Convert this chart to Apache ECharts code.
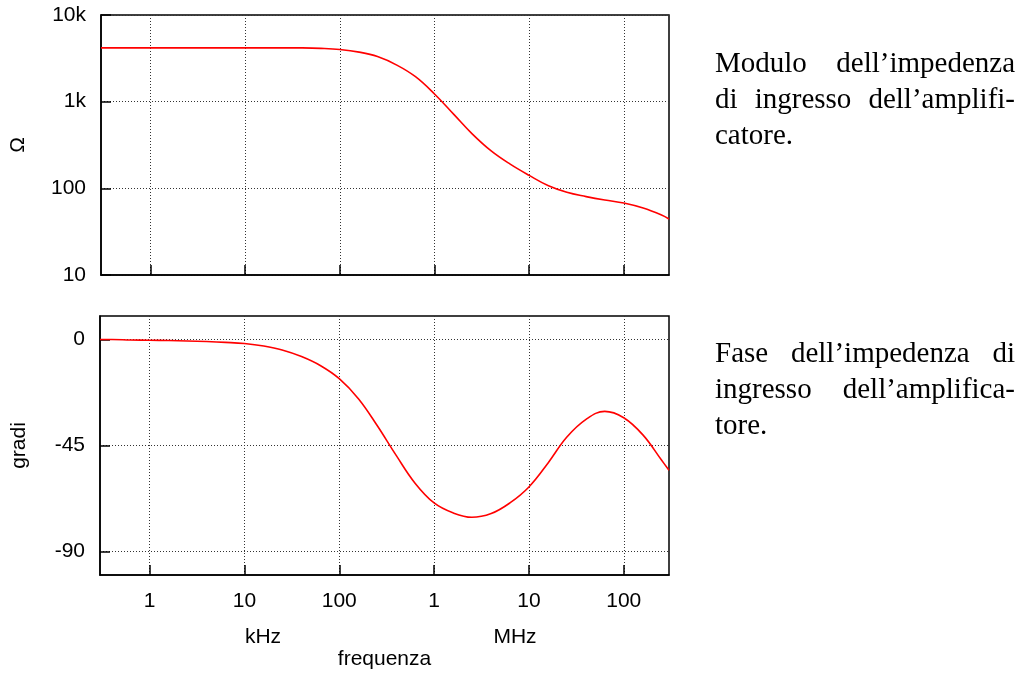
<!DOCTYPE html>
<html><head><meta charset="utf-8">
<script src="https://cdn.jsdelivr.net/npm/echarts@6/dist/echarts.min.js"></script>
<style>html,body{margin:0;padding:0;background:#fff}#c{width:1019px;height:673px}</style>
</head><body><div id="c"></div>
<script>
// ---- data (frequency in Hz) ----
const magFreq  = [300, 400, 630, 1e3, 1.6e3, 2.5e3, 4e3, 6.3e3, 1e4, 1.6e4, 2.5e4, 4e4, 6.3e4, 1e5, 1.6e5, 2.5e5, 4e5, 6.3e5, 1e6, 1.6e6, 2.5e6, 4e6, 6.3e6, 1e7, 1.6e7, 2.5e7, 4e7, 6.3e7, 1e8, 1.6e8, 2.5e8, 3e8];
const magValue = [4180, 4180, 4180, 4180, 4180, 4180, 4180, 4180, 4180, 4180, 4180, 4170, 4120, 4000, 3730, 3310, 2640, 1940, 1226, 713, 425, 268, 190, 141, 107, 90, 80.3, 73.2, 67.6, 59.2, 49.2, 44.3];
const phaseFreq  = [300, 400, 630, 1e3, 1.6e3, 2.5e3, 4e3, 6.3e3, 1e4, 1.6e4, 2.5e4, 4e4, 6.3e4, 1e5, 1.6e5, 2.5e5, 4e5, 6.3e5, 1e6, 1.6e6, 2.5e6, 4e6, 6.3e6, 1e7, 1.6e7, 2.5e7, 4e7, 6.3e7, 1e8, 1.6e8, 2.5e8, 3e8];
const phaseValue = [0, 0, -0.2, -0.3, -0.4, -0.6, -0.85, -1.2, -1.7, -2.75, -4.4, -7.2, -11, -16.6, -25.2, -36.4, -49.3, -61, -69.4, -73.7, -75.5, -73.9, -69.4, -62.6, -52.3, -41.5, -33.9, -30.5, -33.2, -40.6, -51.2, -55.5];

const xTickValues = [1e3, 1e4, 1e5, 1e6, 1e7, 1e8];
const xTickLabels = ['1', '10', '100', '1', '10', '100'];
const magTickValues = [10, 100, 1000, 10000];
const magTickLabels = ['10', '100', '1k', '10k'];
const phaseTickValues = [-90, -45, 0];
const phaseTickLabels = ['-90', '-45', '0'];
const unitLabels = ['kHz', 'MHz'];
const xName = 'frequenza';
const magName = 'Ω';
const phaseName = 'gradi';
const captionTop = ['Modulo dell’impedenza', 'di ingresso dell’amplifi-', 'catore.'];
const captionBottom = ['Fase dell’impedenza di', 'ingresso dell’amplifica-', 'tore.'];

// ---- helpers ----
function labelFor(values, labels) {
  return function (v) {
    for (let i = 0; i < values.length; i++) {
      if (Math.abs(values[i] - v) <= Math.abs(values[i]) * 1e-6 + 1e-9) return labels[i];
    }
    return '';
  };
}
const sans = '"Liberation Sans", Arial, sans-serif';
const serifFont = '"Liberation Serif", "DejaVu Serif", serif';
const labelStyle = { color: '#000', fontFamily: sans, fontSize: 21 };
const gridLine = { show: true, lineStyle: { color: '#333', width: 1, type: [1, 2] } };
const axisLineStyle = { show: true, onZero: false, lineStyle: { color: '#000', width: 1.5 } };
const tickStyle = { color: '#000', width: 1.5 };

function xAxisDef(gridIndex, showLabels) {
  return {
    type: 'log', logBase: 10, gridIndex: gridIndex, min: 300, max: 3e8, position: 'bottom',
    axisLine: axisLineStyle,
    axisTick: { show: true, inside: true, length: 10, customValues: xTickValues, lineStyle: tickStyle },
    axisLabel: Object.assign({ show: showLabels, margin: 16, customValues: xTickValues,
      formatter: labelFor(xTickValues, xTickLabels) }, labelStyle),
    splitLine: gridLine,
    name: showLabels ? xName : '', nameLocation: 'middle', nameGap: 74,
    nameTextStyle: { color: '#000', fontFamily: sans, fontSize: 21 }
  };
}
function yAxisDef(gridIndex, type, min, max, tickValues, tickLabels, name, nameGap) {
  return {
    type: type, gridIndex: gridIndex, min: min, max: max, position: 'left',
    axisLine: axisLineStyle,
    axisTick: { show: true, inside: true, length: 10, customValues: tickValues, lineStyle: tickStyle },
    axisLabel: Object.assign({ margin: 15, customValues: tickValues, formatter: labelFor(tickValues, tickLabels) }, labelStyle),
    splitLine: gridLine,
    name: name, nameLocation: 'middle', nameGap: nameGap,
    nameTextStyle: { color: '#000', fontFamily: sans, fontSize: 21 }
  };
}

// caption layout (justified words)
const measureCtx = document.createElement('canvas').getContext('2d');
const capFontSize = 29;
const capFont = capFontSize + 'px ' + serifFont;
measureCtx.font = capFont;
const capLeft = 715, capRight = 1015;
function captionElements(lines, topY, lineGap) {
  const els = [];
  lines.forEach(function (line, li) {
    const y = topY + li * lineGap;
    const words = line.split(' ');
    const justify = li < lines.length - 1 && words.length > 1;
    if (!justify) {
      els.push({ type: 'text', x: capLeft, y: y, style: { text: line, font: capFont, fill: '#000' } });
      return;
    }
    const widths = words.map(w => measureCtx.measureText(w).width);
    const total = widths.reduce((a, b) => a + b, 0);
    const gap = (capRight - capLeft - total) / (words.length - 1);
    let x = capLeft;
    words.forEach(function (w, wi) {
      els.push({ type: 'text', x: x, y: y, style: { text: w, font: capFont, fill: '#000' } });
      x += widths[wi] + gap;
    });
  });
  return els;
}
const graphics = []
  .concat(captionElements(captionTop, 50, 36))
  .concat(captionElements(captionBottom, 340, 36))
  .concat([
    { type: 'text', x: 263, y: 637, style: { text: unitLabels[0], font: '21px ' + sans, fill: '#000', align: 'center', verticalAlign: 'middle' } },
    { type: 'text', x: 515, y: 637, style: { text: unitLabels[1], font: '21px ' + sans, fill: '#000', align: 'center', verticalAlign: 'middle' } }
  ]);

const chart = echarts.init(document.getElementById('c'), null, { renderer: 'canvas' });
chart.setOption({
  animation: false,
  backgroundColor: '#fff',
  grid: [
    { left: 100, top: 15, width: 569, height: 260, show: true, borderColor: '#000', borderWidth: 1.5, backgroundColor: 'transparent' },
    { left: 100, top: 316, width: 569, height: 259, show: true, borderColor: '#000', borderWidth: 1.5, backgroundColor: 'transparent' }
  ],
  xAxis: [xAxisDef(0, false), xAxisDef(1, true)],
  yAxis: [
    yAxisDef(0, 'log', 10, 10000, magTickValues, magTickLabels, magName, 72),
    yAxisDef(1, 'value', -100, 10, phaseTickValues, phaseTickLabels, phaseName, 70)
  ],
  series: [
    {
      type: 'line', xAxisIndex: 0, yAxisIndex: 0, smooth: 0.4, showSymbol: false, clip: true,
      lineStyle: { color: '#ff0000', width: 1.6 },
      data: magFreq.map((f, i) => [f, magValue[i]])
    },
    {
      type: 'line', xAxisIndex: 1, yAxisIndex: 1, smooth: 0.4, showSymbol: false, clip: true,
      lineStyle: { color: '#ff0000', width: 1.6 },
      data: phaseFreq.map((f, i) => [f, phaseValue[i]])
    }
  ],
  graphic: graphics
});
</script>
</body></html>
